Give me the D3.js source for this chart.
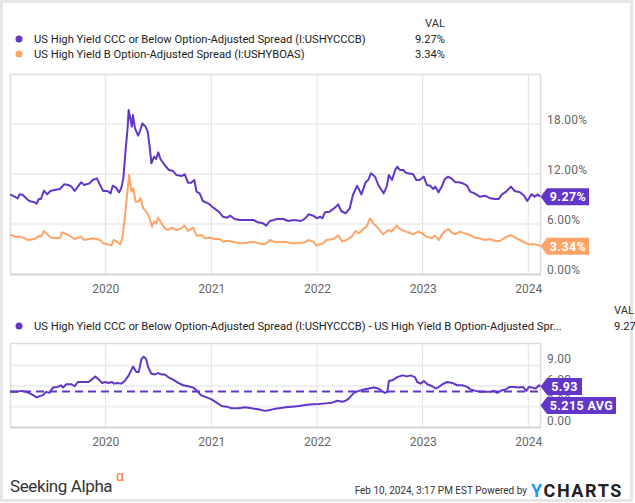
<!DOCTYPE html>
<html><head><meta charset="utf-8">
<script src="https://cdn.jsdelivr.net/npm/d3@7/dist/d3.min.js"></script>
<style>
body{margin:0;background:#fff}
svg{display:block;font-family:Roboto,"Noto Sans",sans-serif}
</style>
</head><body>
<svg id="c" width="635" height="503"></svg>
<script>
// ---- data (dates as decimal years) ----
const cccDates = [2019.10,2019.14,2019.17,2019.19,2019.22,2019.25,2019.28,2019.33,2019.35,2019.37,2019.39,2019.42,2019.45,2019.48,2019.52,2019.57,2019.61,2019.65,2019.68,2019.71,2019.74,2019.77,2019.80,2019.85,2019.88,2019.92,2019.95,2019.98,2020.02,2020.05,2020.07,2020.10,2020.13,2020.15,2020.17,2020.19,2020.21,2020.22,2020.25,2020.26,2020.28,2020.31,2020.33,2020.35,2020.38,2020.40,2020.42,2020.435,2020.46,2020.48,2020.50,2020.52,2020.56,2020.60,2020.64,2020.67,2020.72,2020.75,2020.78,2020.81,2020.84,2020.86,2020.89,2020.92,2020.97,2021.02,2021.07,2021.11,2021.15,2021.18,2021.22,2021.27,2021.32,2021.40,2021.44,2021.49,2021.52,2021.555,2021.59,2021.62,2021.68,2021.73,2021.78,2021.85,2021.89,2021.92,2021.965,2022.00,2022.03,2022.05,2022.075,2022.12,2022.17,2022.20,2022.23,2022.27,2022.31,2022.34,2022.38,2022.42,2022.46,2022.485,2022.51,2022.55,2022.58,2022.63,2022.66,2022.68,2022.71,2022.74,2022.76,2022.785,2022.82,2022.835,2022.86,2022.91,2022.94,2022.97,2023.01,2023.04,2023.07,2023.10,2023.12,2023.15,2023.18,2023.21,2023.24,2023.27,2023.31,2023.34,2023.38,2023.42,2023.45,2023.49,2023.54,2023.59,2023.64,2023.68,2023.72,2023.75,2023.79,2023.835,2023.87,2023.92,2023.96,2023.99,2024.03,2024.06,2024.09,2024.11];
const cccValues = [9.56,9.28,9.08,9.56,9.48,9.08,8.76,8.6,8.44,9.0,9.0,10.0,9.56,9.96,10.08,10.2,10.76,10.68,10.48,9.96,10.48,11.0,10.68,10.88,11.28,11.48,10.68,9.96,9.96,9.68,10.6,10.36,9.8,10.28,11.48,14.68,17.48,19.68,17.68,19.08,17.48,16.6,17.28,18.08,17.68,17.08,15.08,13.28,14.08,13.8,14.6,13.8,13.08,12.48,12.36,11.88,11.76,11.96,10.96,10.96,11.28,9.88,9.68,8.76,8.48,7.96,7.48,6.88,6.76,7.0,6.6,6.48,6.48,6.48,6.2,6.08,5.8,6.36,6.48,6.6,6.6,6.36,6.48,6.36,6.68,7.16,7.0,6.68,6.88,6.68,7.4,7.48,7.96,8.36,7.56,7.28,7.88,9.48,10.6,9.56,11.0,11.28,12.08,11.68,10.68,9.68,10.48,11.88,11.28,12.48,12.88,12.48,12.48,12.2,12.08,11.96,11.28,11.28,11.68,10.68,10.6,10.2,10.48,9.8,10.48,11.4,11.68,11.48,11.0,11.0,10.88,10.6,9.88,9.68,9.28,9.4,9.08,9.0,9.0,9.56,9.88,10.48,9.96,9.8,9.4,8.76,9.56,9.28,9.56,9.27];

const bDates = [2019.10,2019.14,2019.19,2019.22,2019.27,2019.33,2019.38,2019.39,2019.42,2019.45,2019.49,2019.57,2019.59,2019.65,2019.71,2019.77,2019.80,2019.88,2019.95,2019.98,2020.025,2020.057,2020.08,2020.10,2020.14,2020.16,2020.18,2020.205,2020.224,2020.246,2020.265,2020.284,2020.309,2020.334,2020.356,2020.388,2020.419,2020.441,2020.46,2020.482,2020.498,2020.53,2020.561,2020.593,2020.624,2020.672,2020.719,2020.744,2020.782,2020.829,2020.861,2020.908,2020.94,2020.987,2021.034,2021.082,2021.113,2021.161,2021.224,2021.271,2021.318,2021.397,2021.444,2021.501,2021.539,2021.555,2021.586,2021.634,2021.697,2021.76,2021.823,2021.886,2021.917,2021.965,2021.996,2022.028,2022.059,2022.091,2022.154,2022.201,2022.239,2022.28,2022.328,2022.365,2022.397,2022.438,2022.469,2022.501,2022.533,2022.58,2022.627,2022.674,2022.706,2022.753,2022.785,2022.816,2022.864,2022.911,2022.958,2022.996,2023.037,2023.084,2023.116,2023.154,2023.179,2023.211,2023.242,2023.274,2023.305,2023.352,2023.40,2023.447,2023.494,2023.542,2023.589,2023.636,2023.684,2023.731,2023.778,2023.835,2023.873,2023.92,2023.968,2024.005,2024.046,2024.094,2024.11];
const bValues = [4.76,4.48,4.48,4.36,4.08,4.2,4.6,4.48,5.16,4.76,4.36,4.28,5.0,4.68,4.2,4.48,4.08,4.28,4.08,3.68,3.56,3.4,4.08,3.96,3.56,4.28,6.28,9.48,11.88,9.88,10.28,8.68,8.7,9.08,7.9,7.48,6.68,5.68,6.28,6.08,6.76,6.08,5.48,5.28,5.56,5.28,5.48,5.8,5.16,5.56,4.6,4.68,4.28,4.36,4.2,4.2,3.88,4.0,3.8,3.68,3.72,3.88,3.7,3.56,3.88,4.08,3.9,3.8,3.88,3.68,3.68,3.8,4.08,3.88,3.4,3.56,3.68,4.08,4.2,4.6,3.88,4.08,4.48,5.16,4.88,5.4,5.68,6.68,6.08,5.48,4.76,5.28,5.08,5.8,5.4,5.2,5.0,4.76,5.08,4.88,4.48,4.28,4.6,4.08,4.68,5.16,5.4,5.0,4.76,5.08,4.88,4.68,4.36,4.28,4.08,4.2,3.96,3.96,4.36,4.68,4.36,4.08,3.76,3.56,3.56,3.48,3.34];

const diffDates = [2019.10,2019.16,2019.205,2019.25,2019.30,2019.35,2019.38,2019.41,2019.44,2019.47,2019.505,2019.55,2019.58,2019.60,2019.63,2019.68,2019.71,2019.74,2019.79,2019.84,2019.87,2019.905,2019.94,2019.97,2020.00,2020.025,2020.063,2020.082,2020.114,2020.151,2020.183,2020.221,2020.262,2020.293,2020.315,2020.341,2020.363,2020.385,2020.404,2020.435,2020.467,2020.498,2020.53,2020.561,2020.593,2020.64,2020.688,2020.735,2020.782,2020.829,2020.861,2020.902,2020.956,2021.003,2021.05,2021.098,2021.145,2021.192,2021.255,2021.318,2021.381,2021.444,2021.508,2021.555,2021.59,2021.64,2021.703,2021.766,2021.829,2021.892,2021.955,2022.019,2022.082,2022.145,2022.192,2022.239,2022.271,2022.302,2022.35,2022.397,2022.444,2022.492,2022.539,2022.58,2022.611,2022.643,2022.665,2022.681,2022.712,2022.76,2022.807,2022.854,2022.886,2022.927,2022.949,2022.981,2023.012,2023.044,2023.091,2023.122,2023.154,2023.186,2023.233,2023.28,2023.327,2023.375,2023.422,2023.454,2023.501,2023.548,2023.596,2023.643,2023.674,2023.706,2023.753,2023.785,2023.823,2023.864,2023.911,2023.949,2023.98,2024.006,2024.037,2024.069,2024.10,2024.11];
const diffValues = [5.15,5.15,5.29,5.15,4.81,4.33,4.52,4.67,5.15,5.0,5.77,5.87,6.11,5.77,6.26,6.26,5.97,6.59,6.59,6.59,6.93,7.41,6.93,6.45,6.59,6.45,6.59,6.35,6.45,6.35,6.74,7.56,8.85,8.04,8.04,9.96,10.3,9.96,8.76,7.8,7.7,7.89,7.7,7.7,7.31,6.93,6.45,6.11,5.97,5.77,5.39,4.67,4.33,4.04,3.56,3.08,2.98,2.74,2.74,2.89,2.74,2.6,2.36,2.5,2.62,2.74,2.89,2.98,3.08,3.22,3.32,3.37,3.46,3.56,3.85,3.7,3.85,4.19,5.0,5.29,5.49,5.63,5.77,5.63,5.29,5.0,5.15,6.74,6.83,7.31,7.56,7.41,7.56,7.31,6.59,6.35,6.74,6.26,5.97,5.63,5.87,6.26,6.59,6.45,6.11,6.11,5.87,5.49,5.29,5.15,5.15,5.15,5.29,5.0,5.39,5.49,5.87,5.87,5.77,5.87,5.29,5.87,5.77,5.63,6.11,5.93];
const diffAvg = 5.215;

const topTicks = [0, 6, 12, 18];
const bottomTicks = [0, 3, 6, 9];
const legendTop = [
  {name: "US High Yield CCC or Below Option-Adjusted Spread (I:USHYCCCB)", val: "9.27%"},
  {name: "US High Yield B Option-Adjusted Spread (I:USHYBOAS)", val: "3.34%"}
];
const legendBottom = {name: "US High Yield CCC or Below Option-Adjusted Spread (I:USHYCCCB) - US High Yield B Option-Adjusted Spr...", val: "9.27"};

// ---- drawing ----
const PURPLE = "#6236c9", ORANGE = "#ffa366";
const LFS = 11.2;
const toDate = y => { const yr = Math.floor(y); const a = Date.UTC(yr,0,1), b = Date.UTC(yr+1,0,1); return new Date(a + (y-yr)*(b-a)); };
const svg = d3.select("#c");
const L = 10, R = 540;
const x = d3.scaleUtc().domain([toDate(2019.098), toDate(2024.11)]).range([L, R]);

// outer frame
svg.append("rect").attr("x",1.5).attr("y",1.5).attr("width",630).attr("height",499)
  .attr("fill","#fff").attr("stroke","#e6e6e6").attr("stroke-width",3);

function panel(top, bottom, yMax, ticks, fmt, labelShift) {
  const y = d3.scaleLinear().domain([0, yMax]).range([bottom, top]);
  const g = svg.append("g");
  g.selectAll(".hg").data(ticks.filter(t=>t>0)).join("line")
    .attr("x1",L).attr("x2",R).attr("y1",d=>y(d)).attr("y2",d=>y(d))
    .attr("stroke","#efefef").attr("stroke-width",2);
  const years = x.ticks(d3.utcYear.every(1));
  g.selectAll(".vg").data(years).join("line")
    .attr("x1",d=>x(d)).attr("x2",d=>x(d)).attr("y1",top).attr("y2",bottom)
    .attr("stroke","#e2e2e2").attr("stroke-width",1);
  g.append("path").attr("d",`M${L+0.5},${bottom} V${top+0.5} H${R+0.5} V${bottom}`)
    .attr("fill","none").attr("stroke","#dedede").attr("stroke-width",1.5);
  g.append("line").attr("x1",L).attr("x2",R+1).attr("y1",bottom+0.5).attr("y2",bottom+0.5)
    .attr("stroke","#d4d4d4").attr("stroke-width",2);
  const xa = svg.append("g").attr("transform",`translate(0,${bottom})`)
    .call(d3.axisBottom(x).ticks(d3.utcYear.every(1)).tickFormat(d3.utcFormat("%Y")).tickSize(0).tickPadding(10));
  xa.select(".domain").remove();
  xa.selectAll("text").attr("fill","#666").attr("font-size",12).attr("font-family","Roboto");
  const ya = svg.append("g").attr("transform",`translate(${R},${labelShift})`)
    .call(d3.axisRight(y).tickValues(ticks).tickFormat(fmt).tickSize(0).tickPadding(7));
  ya.select(".domain").remove();
  ya.selectAll("text").attr("fill","#666").attr("font-size",12).attr("font-family","Roboto").attr("letter-spacing",0.2);
  return y;
}

function tag(yc, text, color, w) {
  const x0 = R + 0.5, b = x0 + 6.5, h = 8.5;
  const g = svg.append("g");
  g.append("path").attr("d",`M${x0},${yc} L${b},${yc-h} H${b+w} V${yc+h} H${b} Z`).attr("fill",color);
  g.append("text").attr("x",b + w/2).attr("y",yc).attr("dy","0.36em").attr("text-anchor","middle")
    .attr("fill","#fff").attr("font-weight","bold").attr("font-size",12.5).attr("letter-spacing",0.4).text(text);
}

// legend top
svg.append("text").attr("x",445).attr("y",27).attr("text-anchor","end").attr("font-size",LFS).attr("fill","#333").text("VAL");
legendTop.forEach((d,i)=>{
  const yy = 39 + i*15;
  svg.append("circle").attr("cx",19).attr("cy",yy).attr("r",3.5).attr("fill",i?ORANGE:PURPLE);
  svg.append("text").attr("x",34).attr("y",yy).attr("dy","0.35em").attr("font-size",LFS).attr("fill","#222").text(d.name);
  svg.append("text").attr("x",445).attr("y",yy).attr("dy","0.35em").attr("text-anchor","end").attr("font-size",LFS).attr("fill","#222").text(d.val);
});

// top panel
const yTop = panel(74, 274, 24, topTicks, d=>d.toFixed(2)+"%", -4.5);
const lineTop = (dates, vals) => d3.line().x((d,i)=>x(toDate(dates[i]))).y((d,i)=>yTop(vals[i]))(vals);
svg.append("path").attr("d",lineTop(bDates,bValues)).attr("fill","none").attr("stroke",ORANGE).attr("stroke-width",2).attr("stroke-linejoin","round");
svg.append("path").attr("d",lineTop(cccDates,cccValues)).attr("fill","none").attr("stroke",PURPLE).attr("stroke-width",2).attr("stroke-linejoin","round");
tag(yTop(cccValues[cccValues.length-1]), legendTop[0].val, PURPLE, 42);
tag(yTop(bValues[bValues.length-1]), legendTop[1].val, ORANGE, 42);

// bottom legend
svg.append("circle").attr("cx",19).attr("cy",326).attr("r",3.5).attr("fill",PURPLE);
svg.append("text").attr("x",34).attr("y",326).attr("dy","0.35em").attr("font-size",LFS).attr("fill","#222").text(legendBottom.name);
svg.append("text").attr("x",614).attr("y",310).attr("dy","0.35em").attr("font-size",LFS).attr("fill","#333").text("VAL");
svg.append("text").attr("x",614).attr("y",326).attr("dy","0.35em").attr("font-size",LFS).attr("fill","#222").text(legendBottom.val);

// bottom panel
const yBot = panel(343, 427, 12.3, bottomTicks, d=>d.toFixed(2), -6.5);
svg.append("line").attr("x1",L).attr("x2",R).attr("y1",yBot(diffAvg)).attr("y2",yBot(diffAvg))
  .attr("stroke",PURPLE).attr("stroke-width",2).attr("stroke-dasharray","8,5");
svg.append("path").attr("d",d3.line().x((d,i)=>x(toDate(diffDates[i]))).y((d,i)=>yBot(diffValues[i]))(diffValues))
  .attr("fill","none").attr("stroke",PURPLE).attr("stroke-width",2).attr("stroke-linejoin","round");
const yLast = yBot(diffValues[diffValues.length-1]);
let yAvg = yBot(diffAvg);
if (Math.abs(yAvg - yLast) < 19) yAvg = yLast + 19;
tag(yLast, diffValues[diffValues.length-1].toFixed(2), PURPLE, 35);
tag(yAvg, diffAvg + " AVG", PURPLE, 69);

// footer
svg.append("text").attr("x",10).attr("y",492).attr("font-size",17).attr("fill","#333").attr("letter-spacing",-0.4).text("Seeking Alpha");
svg.append("text").attr("x",116).attr("y",481).attr("font-size",14).attr("fill","#ff7a1a").text("α");
svg.append("text").attr("x",527).attr("y",494).attr("text-anchor","end").attr("font-size",10).attr("fill","#333").text("Feb 10, 2024, 3:17 PM EST Powered by");
const yc = svg.append("text").attr("x",531).attr("y",497).attr("font-size",18).attr("font-weight","bold").attr("letter-spacing",1.6).attr("fill","#222");
yc.append("tspan").attr("fill","#1d9bf0").text("Y");
yc.append("tspan").text("CHARTS");
</script>
</body></html>
